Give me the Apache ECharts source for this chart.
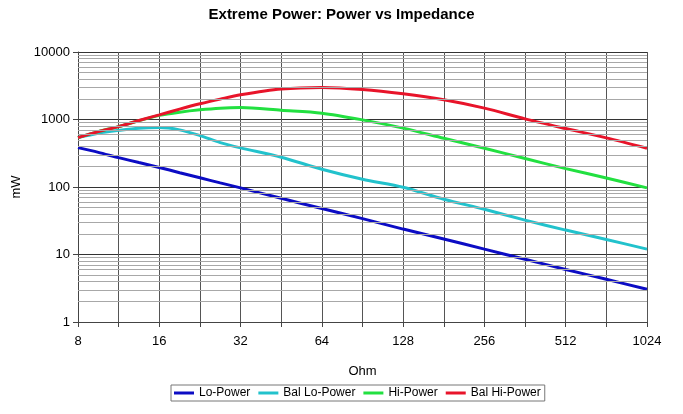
<!DOCTYPE html>
<html>
<head>
<meta charset="utf-8">
<script src="https://cdn.jsdelivr.net/npm/echarts@6/dist/echarts.min.js"></script>
<style>html,body{margin:0;padding:0;background:#fff}#c{width:683px;height:414px}</style>
</head>
<body>
<div id="c"></div>
<script>
const ohms = [8, 9.51, 11.31, 13.45, 16, 19.03, 22.63, 26.91, 32, 45.25, 64, 90.51, 128, 181.02, 256, 362.04, 512, 724.08, 1024];
const loPower = [383, 326, 272, 230, 195, 163, 137, 115, 97, 68, 48, 34, 23.8, 17, 12, 8.5, 6, 4.3, 3.05];
const balLoPower = [540, 627, 690, 744, 760, 702, 578, 455, 380, 276, 183, 130, 99, 66, 46.7, 32.3, 23, 16.7, 12];
const hiPower = [540, 662, 785, 960, 1150, 1285, 1394, 1473, 1500, 1370, 1242, 988, 745, 528, 376, 264, 187, 136, 97];
const balHiPower = [540, 662, 785, 965, 1172, 1425, 1708, 2005, 2322, 2826, 2985, 2786, 2404, 1960, 1473, 1023, 735, 534, 376];
const seriesNames = ['Lo-Power', 'Bal Lo-Power', 'Hi-Power', 'Bal Hi-Power'];
const xTicks = [8, 16, 32, 64, 128, 256, 512, 1024];
const yTicks = [1, 10, 100, 1000, 10000];

const colors = ['#0c0cc4', '#22c2cc', '#22e040', '#e8142a'];
const seriesData = [loPower, balLoPower, hiPower, balHiPower];

const minorY = [];
for (let d = 0; d < yTicks.length - 1; d++) {
  for (let k = 2; k <= 9; k++) minorY.push({ yAxis: k * yTicks[d] });
}

const chart = echarts.init(document.getElementById('c'), null, { renderer: 'canvas' });
const font = 'Liberation Sans, Arial, sans-serif';

const series = seriesNames.map((name, i) => ({
  name,
  type: 'line',
  xAxisIndex: 0,
  smooth: 0.3,
  showSymbol: false,
  symbol: 'none',
  z: 3,
  lineStyle: { width: 3, color: colors[i] },
  itemStyle: { color: colors[i] },
  data: ohms.map((o, j) => [o, seriesData[i][j]])
}));

series.unshift({
  name: 'grid',
  type: 'line',
  xAxisIndex: 0,
  data: [],
  z: 1,
  silent: true,
  markLine: {
    silent: true,
    symbol: 'none',
    label: { show: false },
    lineStyle: { color: '#a8a8a8', width: 1, type: 'solid' },
    emphasis: { disabled: true },
    data: minorY
  }
});

chart.setOption({
  animation: false,
  textStyle: { fontFamily: font },
  title: {
    text: 'Extreme Power: Power vs Impedance',
    left: 'center',
    top: 2,
    textStyle: { fontSize: 15, fontWeight: 'bold', color: '#000', fontFamily: font }
  },
  legend: {
    data: seriesNames,
    left: 171,
    top: 385,
    icon: 'rect',
    itemWidth: 20,
    itemHeight: 3,
    itemGap: 8,
    padding: [2, 4, 2, 3],
    borderColor: '#777',
    borderWidth: 1,
    textStyle: { fontSize: 12, color: '#000', fontFamily: font }
  },
  grid: { left: 78, right: 36, top: 52, bottom: 92, containLabel: false },
  xAxis: [
    {
      type: 'log',
      logBase: 2,
      min: xTicks[0],
      max: xTicks[xTicks.length - 1],
      splitNumber: 7,
      name: 'Ohm',
      nameLocation: 'middle',
      nameGap: 43,
      nameTextStyle: { fontSize: 13, color: '#000', fontFamily: font },
      axisLine: { show: true, lineStyle: { color: '#444' } },
      axisTick: { show: false },
      splitLine: { show: false },
      axisLabel: { fontSize: 13, color: '#000', margin: 13, fontFamily: font, formatter: v => String(Math.round(v)) }
    },
    {
      type: 'value',
      min: 3,
      max: 10,
      interval: 0.5,
      position: 'bottom',
      axisLine: { show: false },
      axisTick: { show: true, length: 5, lineStyle: { color: '#444' } },
      axisLabel: { show: false },
      splitLine: { show: true, lineStyle: { color: '#555', width: 1 } }
    }
  ],
  yAxis: {
    type: 'log',
    logBase: 10,
    min: yTicks[0],
    max: yTicks[yTicks.length - 1],
    name: 'mW',
    nameLocation: 'middle',
    nameGap: 52,
    nameRotate: 90,
    nameTextStyle: { fontSize: 13, color: '#000', fontFamily: font },
    axisLine: { show: true, lineStyle: { color: '#444' } },
    axisTick: { show: true, length: 5, lineStyle: { color: '#444' } },
    splitLine: { show: true, lineStyle: { color: '#333', width: 1 } },
    axisLabel: { fontSize: 13, color: '#000', margin: 8, fontFamily: font, formatter: v => String(Math.round(v)) }
  },
  series
});
</script>
</body>
</html>
